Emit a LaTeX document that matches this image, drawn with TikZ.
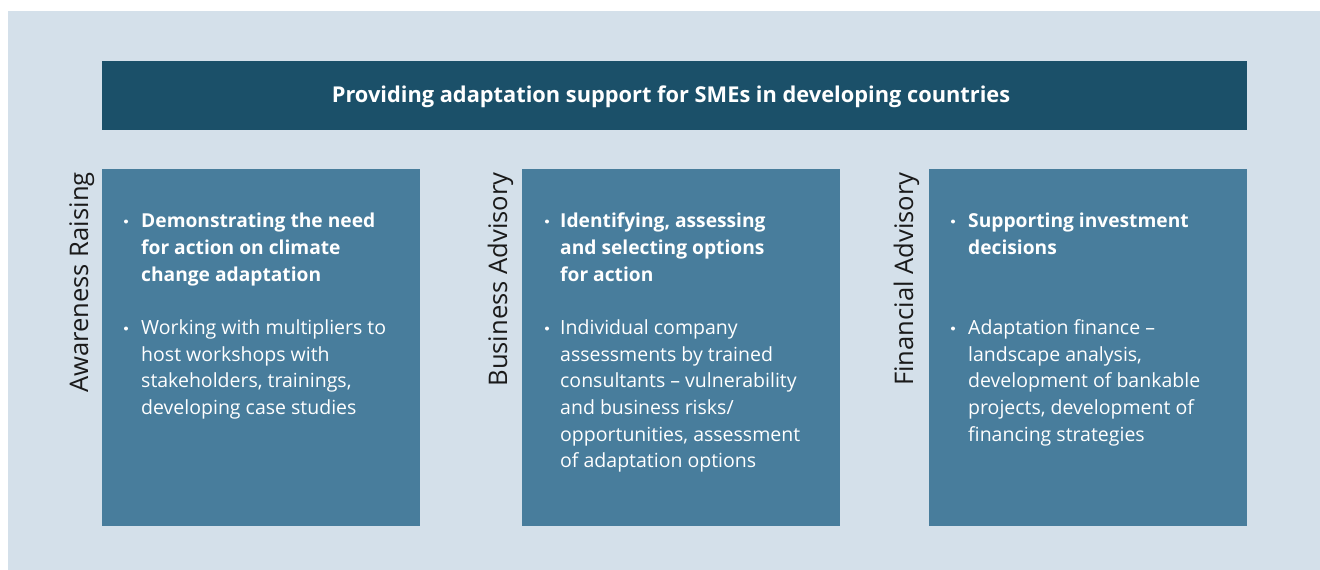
\documentclass[tikz,border=0pt]{standalone}
\usepackage{fontspec}
\setmainfont{Open Sans}
\definecolor{bgc}{HTML}{D4E0EA}
\definecolor{banner}{HTML}{1B5069}
\definecolor{boxc}{HTML}{487D9C}
\definecolor{labc}{HTML}{1A1A1A}
\begin{document}
\begin{tikzpicture}[x=1pt,y=-1pt,
  panel/.style={fill=boxc,draw=none},
  ln/.style={anchor=base west,inner sep=0pt,text=white,font=\fontsize{19.5}{23}\selectfont},
  lnb/.style={ln,font=\fontsize{19.2}{23}\selectfont\bfseries},
  bul/.style={circle,fill=white,draw=none,inner sep=0pt,minimum size=4pt},
  vlab/.style={rotate=90,anchor=base east,inner sep=0pt,text=labc,font=\fontsize{25.6}{30}\selectfont}]
\useasboundingbox (0,0) rectangle (1320,570);
\fill[bgc] (8,11) rectangle (1320,570);
% banner
\node[fill=banner,minimum width=1145pt,minimum height=69pt,inner sep=0pt,anchor=north west] (ban) at (102,61) {};
\node[anchor=base,inner sep=0pt,text=white,font=\fontsize{21.8}{24}\selectfont\bfseries] (title) at (671,102)
  {Providing adaptation support for SMEs in developing countries};
% panels
\node[panel,minimum width=318pt,minimum height=357pt,inner sep=0pt,anchor=north west] (p1) at (102,169) {};
\node[panel,minimum width=318pt,minimum height=357pt,inner sep=0pt,anchor=north west] (p2) at (522,169) {};
\node[panel,minimum width=318pt,minimum height=357pt,inner sep=0pt,anchor=north west] (p3) at (929,169) {};
% vertical labels
\node[vlab] (v1) at (88,172) {Awareness Raising};
\node[vlab] (v2) at (507,172) {Business Advisory};
\node[vlab] (v3) at (913,172) {Financial Advisory};
% panel 1
\node[bul] (b1a) at (126,221.5) {};
\node[lnb] (t1a1) at (141,227) {Demonstrating the need};
\node[lnb] (t1a2) at (141,254) {for action on climate};
\node[lnb] (t1a3) at (141,281) {change adaptation};
\node[bul] (b1b) at (126,328.5) {};
\node[ln] (t1b1) at (141,334) {Working with multipliers to};
\node[ln] (t1b2) at (141,361) {host workshops with};
\node[ln] (t1b3) at (141,387) {stakeholders, trainings,};
\node[ln] (t1b4) at (141,414) {developing case studies};
% panel 2
\node[bul] (b2a) at (547,221.5) {};
\node[lnb] (t2a1) at (560,227) {Identifying, assessing};
\node[lnb] (t2a2) at (560,254) {and selecting options};
\node[lnb] (t2a3) at (560,281) {for action};
\node[bul] (b2b) at (547,328.5) {};
\node[ln] (t2b1) at (560,334) {Individual company};
\node[ln] (t2b2) at (560,361) {assessments by trained};
\node[ln] (t2b3) at (560,387) {consultants – vulnerability};
\node[ln] (t2b4) at (560,414) {and business risks/};
\node[ln] (t2b5) at (560,441) {opportunities, assessment};
\node[ln] (t2b6) at (560,467) {of adaptation options};
% panel 3
\node[bul] (b3a) at (953,221.5) {};
\node[lnb] (t3a1) at (968,227) {Supporting investment};
\node[lnb] (t3a2) at (968,254) {decisions};
\node[bul] (b3b) at (953,328.5) {};
\node[ln] (t3b1) at (968,334) {Adaptation finance –};
\node[ln] (t3b2) at (968,361) {landscape analysis,};
\node[ln] (t3b3) at (968,387) {development of bankable};
\node[ln] (t3b4) at (968,414) {projects, development of};
\node[ln] (t3b5) at (968,441) {financing strategies};
\end{tikzpicture}
\end{document}
